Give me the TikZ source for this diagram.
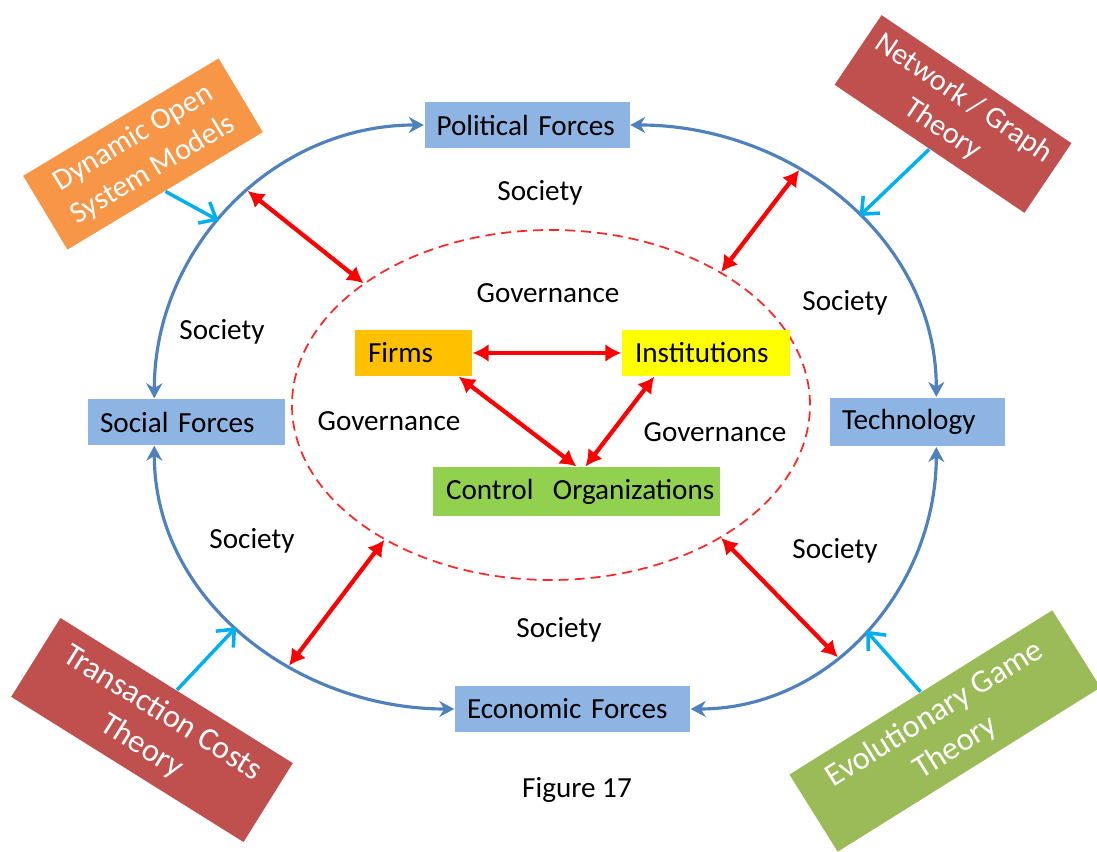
\documentclass[tikz,border=0pt]{standalone}
\usepackage{fontspec}
\setmainfont{Carlito}
\usepackage{tikz}
\usetikzlibrary{arrows.meta,shapes.geometric}

\definecolor{boxblue}{RGB}{141,180,226}
\definecolor{arcblue}{RGB}{79,129,189}
\definecolor{linkcyan}{RGB}{0,176,240}
\definecolor{firmorange}{RGB}{255,192,0}
\definecolor{instyellow}{RGB}{255,255,0}
\definecolor{ctrlgreen}{RGB}{146,208,80}
\definecolor{dosmorange}{RGB}{247,150,70}
\definecolor{theoryred}{RGB}{192,80,77}
\definecolor{theorygreen}{RGB}{155,187,89}

\tikzset{
  force/.style={fill=boxblue, align=left, inner xsep=0.12cm, minimum height=0.46cm},
  actor/.style={align=left, inner xsep=0.13cm, minimum height=0.46cm},
  theory/.style={text=white, align=center, inner sep=0pt,
    font=\fontsize{8.6}{10.6}\selectfont},
  bigtheory/.style={theory, font=\fontsize{9.2}{11.2}\selectfont},
  arc/.style={arcblue, line width=0.9pt, {Stealth[length=1.5mm,width=1.6mm]}-{Stealth[length=1.5mm,width=1.6mm]}},
  link/.style={red, line width=1.2pt, {Latex[length=1.6mm,width=1.8mm]}-{Latex[length=1.6mm,width=1.8mm]}},
  feed/.style={linkcyan, line width=1pt, -{Straight Barb[length=1.4mm,width=2.4mm]}}
}

\begin{document}
\begin{tikzpicture}[font=\fontsize{8.3}{10}\selectfont]
\useasboundingbox (0,0) rectangle (10.97,8.52);

% the four forces
\node[force, text width=1.81cm] (pol) at (5.27,7.27) {Political Forces};
\node[force, text width=1.73cm] (soc) at (1.865,4.30) {Social Forces};
\node[force, text width=1.51cm] (tech) at (9.175,4.30) {Technology};
\node[force, text width=2.11cm] (eco) at (5.725,1.43) {Economic Forces};

% governance core
\node[draw=red!85!white, dashed, dash pattern=on 0.1cm off 0.06cm, line width=0.5pt,
  ellipse, minimum width=5.18cm, minimum height=3.5cm, inner sep=0pt] (ring) at (5.51,4.47) {};
\node[actor, fill=firmorange, text width=0.91cm] (firms) at (4.135,4.99) {Firms};
\node[actor, fill=instyellow, text width=1.42cm] (inst) at (7.06,4.99) {Institutions};
\node[actor, fill=ctrlgreen, text width=2.61cm] (ctrl) at (5.765,3.605) {\mbox{Control\ \ Organizations}};

% theories in the corners
\node[theory, fill=dosmorange, minimum width=2.28cm, minimum height=0.86cm, rotate=31]
  (dosm) at (1.43,6.98) {Dynamic Open\\System Models};
\node[theory, fill=theoryred, minimum width=2.29cm, minimum height=0.84cm, rotate=-34]
  (ngt) at (9.53,7.38) {Network / Graph\\Theory};
\node[bigtheory, fill=theoryred, minimum width=2.74cm, minimum height=0.93cm, rotate=-32]
  (tct) at (1.52,1.22) {Transaction Costs\\Theory};
\node[bigtheory, fill=theorygreen, minimum width=3.10cm, minimum height=0.91cm, rotate=32]
  (egt) at (9.45,1.21) {Evolutionary Game\\Theory};

% society ring
\draw[arc] (pol.west) to[out=180,in=90]
  coordinate[pos=0.45] (tlred) coordinate[pos=0.55] (tlcyan) ([xshift=0.67cm]soc.north west);
\draw[arc] (pol.east) to[out=0,in=90]
  coordinate[pos=0.38] (trred) coordinate[pos=0.55] (trcyan) ([xshift=1.07cm]tech.north west);
\draw[arc] ([xshift=0.67cm]soc.south west) to[out=-90,in=180]
  coordinate[pos=0.47] (blcyan) coordinate[pos=0.62] (blred) (eco.west);
\draw[arc] ([xshift=1.07cm]tech.south west) to[out=-90,in=0]
  coordinate[pos=0.5] (brcyan) coordinate[pos=0.6] (brred) (eco.east);

% ring to core
\draw[link] (tlred) -- (ring.147);
\draw[link] (trred) -- (ring.38);
\draw[link] (blred) -- (ring.219);
\draw[link] (brred) -- (ring.322);

% inside the core
\draw[link] (firms.east) -- (inst.west);
\draw[link] ([xshift=-0.14cm]firms.south east) -- (ctrl.north);
\draw[link] ([xshift=0.33cm]inst.south west) -- ([xshift=0.09cm]ctrl.north);

% theories feed the ring
\draw[feed] (dosm.south) -- (tlcyan);
\draw[feed] (ngt.south) -- (trcyan);
\draw[feed] (tct.north) -- (blcyan);
\draw[feed] (egt.north) -- (brcyan);

% labels
\foreach \x/\y [count=\i] in {5.40/6.59, 8.45/5.49, 2.22/5.20, 2.52/3.11, 8.35/3.01, 5.59/2.22}
  \node (society\i) at (\x,\y) {Society};
\foreach \x/\y [count=\i] in {5.48/5.59, 3.89/4.31, 7.15/4.20}
  \node (gov\i) at (\x,\y) {Governance};
\node (fig) at (5.77,0.62) {Figure 17};
\end{tikzpicture}
\end{document}
